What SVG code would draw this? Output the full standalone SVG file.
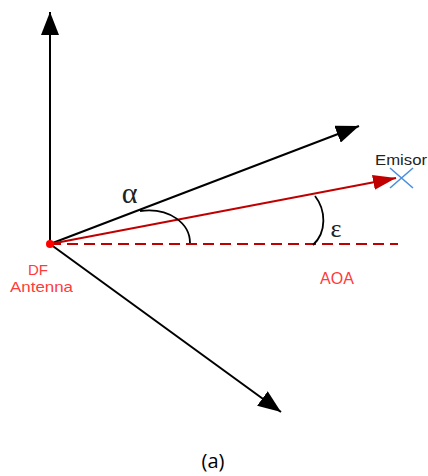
<svg xmlns="http://www.w3.org/2000/svg" width="428" height="476" viewBox="0 0 428 476">
<defs>
<marker id="ah" markerUnits="userSpaceOnUse" markerWidth="24" markerHeight="18" refX="23" refY="9" orient="auto">
<path d="M0,0 L23,9 L0,18 z" fill="#000"/>
</marker>
<marker id="ahr" markerUnits="userSpaceOnUse" markerWidth="24" markerHeight="16" refX="23" refY="7.5" orient="auto">
<path d="M0,0 L23,7.5 L0,15 z" fill="#c00000"/>
</marker>
</defs>
<style>
.ax{stroke:#000;stroke-width:2;fill:none}
.rd{stroke:#c00000;stroke-width:2;fill:none}
.arc{stroke:#000;stroke-width:1.8;fill:none}
.lbl{font-family:"Liberation Sans",Arial,sans-serif;fill:#ff3b3b}
</style>
<g id="connectors">
<line class="ax" x1="50" y1="244" x2="50" y2="12" marker-end="url(#ah)"/>
<line class="ax" x1="50" y1="244" x2="359" y2="126" marker-end="url(#ah)"/>
<line class="ax" x1="50" y1="244" x2="281" y2="412" marker-end="url(#ah)"/>
<line class="rd" x1="50" y1="244" x2="396" y2="178" marker-end="url(#ahr)"/>
<line class="rd" x1="50" y1="244" x2="398" y2="244" stroke-dasharray="11,6"/>
<path class="arc" d="M140,211 C170,207 190,224 190,243"/>
<path class="arc" d="M315,196 C326,210 327,232 313,245"/>
</g>
<g id="antenna">
<circle cx="50" cy="244" r="4" fill="#ff0000"/>
<text class="lbl" x="38" y="275" font-size="15" text-anchor="middle">DF</text>
<text class="lbl" x="10" y="292" font-size="15" textLength="63" lengthAdjust="spacingAndGlyphs">Antenna</text>
</g>
<g id="emisor">
<path d="M390,168 L413,188 M390,188 L413,168" stroke="#4a8ee0" stroke-width="1.6" fill="none"/>
<text x="375" y="165" font-family="Liberation Sans,Arial,sans-serif" font-size="14" fill="#222" textLength="52" lengthAdjust="spacingAndGlyphs">Emisor</text>
</g>
<g id="labels">
<text x="129.5" y="203" font-family="Liberation Serif,Times New Roman,serif" font-size="30" fill="#222" text-anchor="middle">α</text>
<text x="336" y="237" font-family="Liberation Serif,Times New Roman,serif" font-size="26" fill="#222" text-anchor="middle">ε</text>
<text class="lbl" x="337" y="284" font-size="16" text-anchor="middle">AOA</text>
<text x="213" y="468" font-family="Open Sans,Noto Sans,sans-serif" font-size="20" fill="#000" text-anchor="middle">(a)</text>
</g>
</svg>
